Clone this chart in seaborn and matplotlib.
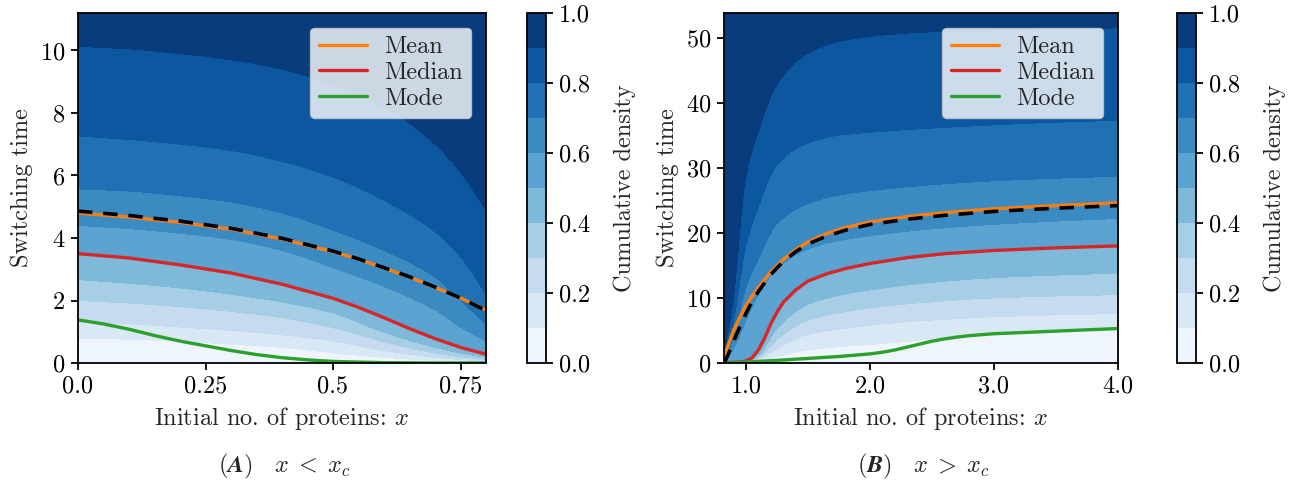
import numpy as np
import matplotlib
matplotlib.use("Agg")
import matplotlib.pyplot as plt
from matplotlib.ticker import FormatStrFormatter
import seaborn as sns

# ---------------- Panel A (x < x_c) ----------------
a_xlim = (0.0, 0.8)
a_ylim = (0.0, 11.2)
a_xticks = [0.0, 0.25, 0.5, 0.75]
a_xticklabels = ["0.0", "0.25", "0.5", "0.75"]
a_yticks = [0, 2, 4, 6, 8, 10]

# quantile curves of the switching-time distribution (cumulative levels 0.1..0.9)
a_qx = [0.0, 0.1, 0.2, 0.3, 0.4, 0.5, 0.6, 0.7, 0.75, 0.8]
a_q10 = [0.8, 0.76, 0.7, 0.6, 0.5, 0.33, 0.18, 0.08, 0.05, 0.03]
a_q20 = [1.3, 1.25, 1.15, 1.04, 0.9, 0.7, 0.4, 0.18, 0.11, 0.06]
a_q30 = [2.0, 1.92, 1.8, 1.65, 1.45, 1.13, 0.68, 0.32, 0.2, 0.11]
a_q40 = [2.67, 2.55, 2.4, 2.2, 1.95, 1.6, 0.98, 0.5, 0.32, 0.18]
a_q50 = [3.5, 3.36, 3.14, 2.88, 2.52, 2.07, 1.45, 0.78, 0.5, 0.28]
a_q60 = [4.4, 4.3, 4.15, 3.95, 3.6, 3.05, 2.45, 1.7, 1.15, 0.7]
a_q70 = [5.57, 5.5, 5.35, 5.15, 4.8, 4.25, 3.6, 2.75, 2.0, 1.25]
a_q80 = [7.26, 7.15, 7.0, 6.8, 6.45, 5.95, 5.2, 4.2, 3.4, 2.2]
a_q90 = [10.13, 10.05, 9.9, 9.7, 9.4, 8.9, 8.2, 7.0, 6.1, 4.9]

a_line_x = [0.0, 0.1, 0.2, 0.3, 0.4, 0.5, 0.55, 0.6, 0.65, 0.7, 0.75, 0.8]
a_mean = [4.8, 4.67, 4.5, 4.28, 3.97, 3.56, 3.32, 3.04, 2.75, 2.42, 2.08, 1.7]
a_approx = [4.86, 4.72, 4.54, 4.31, 3.99, 3.58, 3.33, 3.05, 2.76, 2.43, 2.08, 1.68]
a_median = [3.5, 3.36, 3.14, 2.88, 2.52, 2.07, 1.78, 1.45, 1.1, 0.78, 0.5, 0.28]
a_mode_x = [0.0, 0.05, 0.1, 0.15, 0.2, 0.25, 0.3, 0.35, 0.4, 0.45, 0.5, 0.6, 0.7, 0.8]
a_mode = [1.38, 1.25, 1.08, 0.88, 0.7, 0.55, 0.4, 0.27, 0.17, 0.1, 0.05, 0.01, 0.0, 0.0]

# ---------------- Panel B (x > x_c) ----------------
b_xlim = (0.823, 4.0)
b_ylim = (0.0, 53.8)
b_xticks = [1.0, 2.0, 3.0, 4.0]
b_xticklabels = ["1.0", "2.0", "3.0", "4.0"]
b_yticks = [0, 10, 20, 30, 40, 50]

b_qx = [0.823, 0.9, 1.0, 1.1, 1.25, 1.5, 1.75, 2.1, 2.5, 3.0, 3.5, 4.0]
b_q10 = [0.02, 0.04, 0.06, 0.25, 1.0, 2.0, 2.5, 3.0, 3.7, 4.5, 4.9, 5.2]
b_q20 = [0.04, 0.07, 0.1, 0.5, 2.2, 4.4, 5.2, 6.0, 6.6, 7.1, 7.4, 7.6]
b_q30 = [0.06, 0.1, 0.15, 0.8, 3.6, 6.6, 7.7, 8.7, 9.4, 10.0, 10.3, 10.5]
b_q40 = [0.08, 0.15, 0.2, 1.2, 5.3, 9.0, 10.4, 11.5, 12.4, 13.1, 13.5, 13.8]
b_q50 = [0.1, 0.2, 0.3, 2.0, 7.8, 12.6, 14.3, 15.5, 16.4, 17.3, 17.7, 18.0]
b_q60 = [0.15, 2.2, 6.5, 10.5, 14.5, 17.5, 18.8, 19.8, 20.6, 21.3, 21.8, 22.2]
b_q70 = [0.25, 4.0, 11.7, 16.0, 21.4, 24.5, 25.8, 26.7, 27.4, 28.0, 28.4, 28.7]
b_q80 = [0.4, 6.5, 18.0, 24.0, 30.5, 33.8, 35.0, 35.6, 36.1, 36.6, 37.0, 37.3]
b_q90 = [0.8, 10.0, 28.6, 35.5, 42.8, 47.6, 49.4, 50.4, 50.9, 51.2, 51.4, 51.5]

b_line_x = [0.823, 0.85, 0.9, 0.95, 1.0, 1.05, 1.1, 1.2, 1.3, 1.4, 1.5, 1.65, 1.8, 2.0, 2.3, 2.6, 3.0, 3.5, 4.0]
b_mean = [1.0, 2.4, 5.0, 7.0, 8.8, 10.3, 11.6, 14.0, 15.9, 17.4, 18.6, 19.9, 20.8, 21.7, 22.5, 23.1, 23.7, 24.2, 24.6]
b_approx = [0.0, 1.0, 3.3, 5.5, 7.6, 9.5, 11.0, 13.6, 15.6, 17.1, 18.3, 19.5, 20.4, 21.3, 22.1, 22.7, 23.3, 23.8, 24.2]
b_med_x = [0.823, 0.95, 1.0, 1.05, 1.1, 1.15, 1.2, 1.25, 1.3, 1.4, 1.5, 1.65, 1.8, 2.0, 2.3, 2.6, 3.0, 3.5, 4.0]
b_median = [0.05, 0.15, 0.3, 0.8, 2.0, 3.8, 6.0, 7.8, 9.3, 11.2, 12.6, 13.7, 14.5, 15.3, 16.2, 16.8, 17.3, 17.7, 18.0]
b_mode_x = [0.823, 1.0, 1.25, 1.5, 1.75, 2.0, 2.1, 2.2, 2.3, 2.4, 2.5, 2.6, 2.7, 2.8, 3.0, 3.5, 4.0]
b_mode = [0.0, 0.15, 0.4, 0.7, 1.0, 1.4, 1.65, 2.0, 2.45, 2.9, 3.35, 3.7, 3.98, 4.2, 4.5, 4.9, 5.3]

cum_levels = [0.1, 0.2, 0.3, 0.4, 0.5, 0.6, 0.7, 0.8, 0.9]
cbar_ticks = [0.0, 0.2, 0.4, 0.6, 0.8, 1.0]
legend_labels = ["Mean", "Median", "Mode"]
xlabel = r"Initial no. of proteins: $x$"
ylabel = "Switching time"
cbar_label = "Cumulative density"
captions = [r"$\boldsymbol{(A)}\quad x\;<\;x_c$", r"$\boldsymbol{(B)}\quad x\;>\;x_c$"]

FS = 17.5

# ---------------- style ----------------
sns.set_theme(style="ticks")
plt.rcParams.update({
    "font.family": ["cmr10", "DejaVu Serif"],
    "mathtext.fontset": "cm",
    "axes.formatter.use_mathtext": True,
    "axes.unicode_minus": False,
    "font.size": FS,
    "axes.labelsize": FS,
    "xtick.labelsize": FS,
    "ytick.labelsize": FS,
    "legend.fontsize": FS,
    "axes.edgecolor": "black",
    "axes.linewidth": 1.3,
    "xtick.color": "black",
    "ytick.color": "black",
    "xtick.major.width": 1.3,
    "ytick.major.width": 1.3,
    "xtick.major.size": 5,
    "ytick.major.size": 5,
    "xtick.major.pad": 4,
    "ytick.major.pad": 4,
    "xtick.direction": "out",
    "ytick.direction": "out",
})

blues = sns.color_palette("Blues", as_cmap=True)
c_mean, c_median, c_mode = "#ff7f0e", "#d62728", "#2ca02c"


def pchip(x, y, xn):
    """Monotone cubic interpolation between read control points (for the filled field)."""
    x = np.asarray(x, float)
    y = np.asarray(y, float)
    h = np.diff(x)
    d = np.diff(y) / h
    m = np.zeros_like(y)
    for k in range(1, len(y) - 1):
        if d[k - 1] * d[k] > 0:
            w1 = 2 * h[k] + h[k - 1]
            w2 = h[k] + 2 * h[k - 1]
            m[k] = (w1 + w2) / (w1 / d[k - 1] + w2 / d[k])
    m[0] = d[0]
    m[-1] = d[-1]
    idx = np.clip(np.searchsorted(x, xn) - 1, 0, len(h) - 1)
    t = (xn - x[idx]) / h[idx]
    h00 = 2 * t**3 - 3 * t**2 + 1
    h10 = t**3 - 2 * t**2 + t
    h01 = -2 * t**3 + 3 * t**2
    h11 = t**3 - t**2
    return h00 * y[idx] + h10 * h[idx] * m[idx] + h01 * y[idx + 1] + h11 * h[idx] * m[idx + 1]


def build_field(qx, rows, xlim, top):
    xf = np.linspace(xlim[0], xlim[1], 700)
    tf = np.linspace(0.0, top, 700)
    Q = np.array([pchip(qx, r, xf) for r in rows])
    Q = np.maximum.accumulate(np.maximum(Q, 1e-4), axis=0) + np.arange(9)[:, None] * 1e-5
    pq = np.concatenate([[0.0], cum_levels, [1.0]])
    Z = np.empty((tf.size, xf.size))
    for j in range(xf.size):
        tq = np.concatenate([[0.0], Q[:, j], [max(Q[-1, j] * 2.0, top * 1.5)]])
        Z[:, j] = np.interp(tf, tq, pq)
    return xf, tf, Z


W, H = 1296, 490
fig = plt.figure(figsize=(W / 100, H / 100), dpi=100)


def px_rect(l, t, r, b):
    return [l / W, 1 - b / H, (r - l) / W, (b - t) / H]


panels = [
    dict(ax=px_rect(78, 13, 486, 363), cax=px_rect(527, 13, 546, 363),
         qx=a_qx, rows=[a_q10, a_q20, a_q30, a_q40, a_q50, a_q60, a_q70, a_q80, a_q90],
         xlim=a_xlim, ylim=a_ylim, xticks=a_xticks, xtl=a_xticklabels, yticks=a_yticks,
         lx=a_line_x, mean=a_mean, approx=a_approx, mx=a_line_x, med=a_median,
         mox=a_mode_x, mode=a_mode, cap=captions[0], capx=284),
    dict(ax=px_rect(724, 13, 1118, 363), cax=px_rect(1177, 13, 1196, 363),
         qx=b_qx, rows=[b_q10, b_q20, b_q30, b_q40, b_q50, b_q60, b_q70, b_q80, b_q90],
         xlim=b_xlim, ylim=b_ylim, xticks=b_xticks, xtl=b_xticklabels, yticks=b_yticks,
         lx=b_line_x, mean=b_mean, approx=b_approx, mx=b_med_x, med=b_median,
         mox=b_mode_x, mode=b_mode, cap=captions[1], capx=923),
]

for p in panels:
    ax = fig.add_axes(p["ax"])
    cax = fig.add_axes(p["cax"])
    xf, tf, Z = build_field(p["qx"], p["rows"], p["xlim"], p["ylim"][1])
    cs = ax.contourf(xf, tf, Z, levels=np.linspace(0, 1, 11), cmap=blues, vmin=0, vmax=1)
    sns.lineplot(x=p["lx"], y=p["mean"], ax=ax, color=c_mean, lw=2.4, label=legend_labels[0])
    sns.lineplot(x=p["mx"], y=p["med"], ax=ax, color=c_median, lw=2.4, label=legend_labels[1])
    sns.lineplot(x=p["mox"], y=p["mode"], ax=ax, color=c_mode, lw=2.4, label=legend_labels[2])
    ax.plot(p["lx"], p["approx"], color="black", lw=2.6, dashes=(4, 3))
    ax.set_xlim(*p["xlim"])
    ax.set_ylim(*p["ylim"])
    ax.set_xticks(p["xticks"])
    ax.set_xticklabels(p["xtl"])
    ax.set_yticks(p["yticks"])
    ax.set_xlabel(xlabel, labelpad=5)
    ax.set_ylabel(ylabel, labelpad=5)
    for s in ax.spines.values():
        s.set_visible(True)
        s.set_color("black")
        s.set_linewidth(1.3)
    ax.legend(loc="upper right", frameon=True, framealpha=0.8, facecolor="white",
              edgecolor="0.8", fancybox=True, handlelength=2.0, borderpad=0.35,
              labelspacing=0.15, handletextpad=0.7, borderaxespad=0.6)
    cb = fig.colorbar(cs, cax=cax, ticks=cbar_ticks)
    cb.ax.yaxis.set_major_formatter(FormatStrFormatter("%.1f"))
    cb.set_label(cbar_label, labelpad=17)
    cb.outline.set_edgecolor("black")
    cb.outline.set_linewidth(1.3)
    fig.text(p["capx"] / W, 1 - 466 / H, p["cap"], ha="center", va="center", fontsize=FS)

fig.savefig("out.png", dpi=100)
